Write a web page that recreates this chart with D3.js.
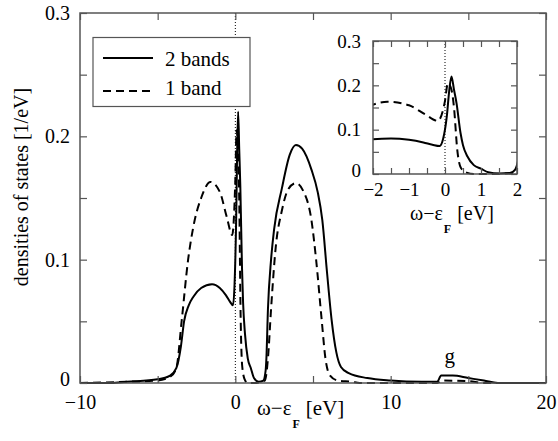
<!DOCTYPE html>
<html>
<head>
<meta charset="utf-8">
<title>densities of states</title>
<script src="https://cdn.jsdelivr.net/npm/d3@7"></script>
<style>
  body { margin: 0; background: #fff; }
  text { font-family: "Liberation Serif", "Times New Roman", serif; fill: #000; }
</style>
</head>
<body>
<script>

// 2 bands (solid)
var bands2X = [-10, -8, -7, -5, -4.2, -3.8, -3.5, -3.3, -3.0, -2.7, -2.2, -1.5, -1.0, -0.6, -0.35, -0.15, -0.05,
  0.05, 0.12, 0.18, 0.25, 0.32, 0.43, 0.5, 0.62, 0.8, 1.0, 1.2, 1.5, 1.8, 1.95, 2.0, 2.1, 2.3, 2.5, 3.0, 3.5, 3.9, 4.3,
  4.9, 5.3, 5.6, 5.9, 6.2, 6.5, 6.8, 7.3, 8.5, 10, 12, 13.0, 13.25, 14, 15, 16, 16.9, 20];
var bands2Y = [0, 0, 0.001, 0.003, 0.006, 0.012, 0.03, 0.05, 0.063, 0.07, 0.077, 0.08, 0.077, 0.071, 0.066, 0.063, 0.08,
  0.13, 0.19, 0.22, 0.19, 0.16, 0.093, 0.065, 0.04, 0.02, 0.012, 0.004, 0.001, 0.002, 0.01, 0.02, 0.06, 0.1, 0.125, 0.158, 0.185, 0.193, 0.19,
  0.173, 0.155, 0.132, 0.09, 0.051, 0.025, 0.013, 0.008, 0.004, 0.002, 0.001, 0.001, 0.006, 0.006, 0.004, 0.002, 0, 0];

// 1 band (dashed)
var band1X = [-10, -7, -5, -4.2, -3.8, -3.45, -3.04, -2.65, -2.2, -1.6, -1.0, -0.56, -0.2, 0, 0.08, 0.18, 0.25, 0.34,
  0.44, 0.6, 0.8, 1.2, 1.9, 2.1, 2.3, 2.6, 3.0, 3.4, 3.9, 4.4, 4.9, 5.2, 5.56, 5.8, 6.1, 6.6, 7.5, 8, 13.0, 13.3, 15, 16, 20];
var band1Y = [0, 0.001, 0.002, 0.005, 0.012, 0.051, 0.1, 0.13, 0.15, 0.163, 0.155, 0.135, 0.12, 0.165, 0.205, 0.19, 0.15, 0.055,
  0.014, 0.003, 0, 0, 0.002, 0.02, 0.06, 0.11, 0.14, 0.157, 0.162, 0.155, 0.132, 0.1, 0.051, 0.02, 0.006, 0.002, 0.001, 0, 0, 0.002, 0.0015, 0, 0];

var xTicks = [-10, -5, 0, 5, 10, 15, 20];
var yTicks = [0, 0.05, 0.1, 0.15, 0.2, 0.25, 0.3];
var insetXTicks = [-2, -1.5, -1, -0.5, 0, 0.5, 1, 1.5, 2];
var insetYTicks = [0, 0.05, 0.1, 0.15, 0.2, 0.25, 0.3];

var width = 558, height = 441;
var svg = d3.select('body').append('svg').attr('width', width).attr('height', height);

var x = d3.scaleLinear().domain([-10, 20]).range([80, 546]);
var y = d3.scaleLinear().domain([0, 0.3]).range([383, 13]);
var ix = d3.scaleLinear().domain([-2, 2]).range([373, 517]);
var iy = d3.scaleLinear().domain([0, 0.3]).range([174, 41]);

var frameColor = '#555';
var serif = '"Liberation Serif", "Times New Roman", serif';

function yFmt(d) {
  var k = Math.round(d * 100);
  if (k % 10 !== 0) return '';
  return k === 0 ? '0' : d3.format('.1f')(d);
}
function xFmt(d) {
  return d % 10 === 0 ? d3.format('d')(d) : '';
}
function ixFmt(d) { return d % 1 === 0 ? d3.format('d')(d) : ''; }

// draws a box with inward ticks on all four sides
function frame(xs, ys, xt, yt, xf, yf, tl, pad, fs) {
  var x0 = xs.range()[0], x1 = xs.range()[1], y0 = ys.range()[0], y1 = ys.range()[1];
  var g = svg.append('g');
  g.append('rect').attr('x', x0).attr('y', y1).attr('width', x1 - x0).attr('height', y0 - y1)
    .attr('fill', 'none').attr('stroke', frameColor).attr('stroke-width', 1.5);
  var axes = [
    [d3.axisBottom(xs).tickValues(xt).tickSizeInner(-tl).tickSizeOuter(0).tickPadding(pad[0]).tickFormat(xf), 0, y0],
    [d3.axisTop(xs).tickValues(xt).tickSizeInner(-tl).tickSizeOuter(0).tickFormat(''), 0, y1],
    [d3.axisLeft(ys).tickValues(yt).tickSizeInner(-tl).tickSizeOuter(0).tickPadding(pad[1]).tickFormat(yf), x0, 0],
    [d3.axisRight(ys).tickValues(yt).tickSizeInner(-tl).tickSizeOuter(0).tickFormat(''), x1, 0]
  ];
  axes.forEach(function(a, i) {
    var ag = g.append('g').attr('transform', 'translate(' + a[1] + ',' + a[2] + ')').call(a[0])
      .attr('font-family', serif).attr('font-size', fs);
    ag.select('.domain').remove();
    ag.selectAll('line').attr('stroke', frameColor).attr('stroke-width', 1.2);
    ag.selectAll('text').style('font-family', serif).style('font-size', fs + 'px').attr('fill', '#000');
    // lift the y "0" a little so it clears the first x label
    if (i === 2) ag.selectAll('.tick').filter(function(d) { return d === 0; }).select('text').attr('dy', '0.12em');
  });
  return g;
}

function drawCurves(xs, ys, clipId) {
  var x0 = xs.range()[0], x1 = xs.range()[1], y0 = ys.range()[0], y1 = ys.range()[1];
  svg.append('clipPath').attr('id', clipId).append('rect')
    .attr('x', x0).attr('y', y1 - 2).attr('width', x1 - x0).attr('height', y0 - y1 + 4);
  var g = svg.append('g').attr('clip-path', 'url(#' + clipId + ')');
  var line = d3.line().x(function(d) { return xs(d[0]); }).y(function(d) { return ys(d[1]); })
    .curve(d3.curveMonotoneX);
  // dotted line at the Fermi level
  g.append('line').attr('x1', xs(0)).attr('x2', xs(0)).attr('y1', y1).attr('y2', y0)
    .attr('stroke', '#000').attr('stroke-width', 1).attr('stroke-dasharray', '1,2');
  g.append('path').datum(d3.zip(band1X, band1Y)).attr('d', line)
    .attr('fill', 'none').attr('stroke', '#000').attr('stroke-width', 2).attr('stroke-dasharray', '8,5');
  g.append('path').datum(d3.zip(bands2X, bands2Y)).attr('d', line)
    .attr('fill', 'none').attr('stroke', '#000').attr('stroke-width', 2);
}

// main plot
drawCurves(x, y, 'clipMain');
frame(x, y, xTicks, yTicks, xFmt, yFmt, 7, [12, 10], 20);

// axis titles
svg.append('text').attr('transform', 'translate(28,187) rotate(-90)').attr('text-anchor', 'middle')
  .style('font-size', '20px').text('densities of states [1/eV]');

function omegaLabel(x0, yb, fs) {
  var t = svg.append('text').attr('x', x0).attr('y', yb).style('font-size', fs + 'px');
  t.append('tspan').text('ω−ε');
  t.append('tspan').attr('dy', 13).attr('dx', 1).style('font-size', '12px').style('font-weight', 'bold').text('F');
  t.append('tspan').attr('dy', -13).attr('dx', 6).text('[eV]');
}
omegaLabel(257, 415, 21);

// g label
svg.append('text').attr('x', x(13.8)).attr('y', 363).attr('text-anchor', 'middle')
  .style('font-size', '21px').text('g');

// legend
var lg = svg.append('g');
lg.append('rect').attr('x', 93).attr('y', 37.5).attr('width', 157).attr('height', 69)
  .attr('fill', '#fff').attr('stroke', frameColor).attr('stroke-width', 1.2);
lg.append('line').attr('x1', 103).attr('x2', 153).attr('y1', 58).attr('y2', 58)
  .attr('stroke', '#000').attr('stroke-width', 2);
lg.append('line').attr('x1', 103).attr('x2', 153).attr('y1', 91).attr('y2', 91)
  .attr('stroke', '#000').attr('stroke-width', 2).attr('stroke-dasharray', '8,5');
lg.append('text').attr('x', 165).attr('y', 66).style('font-size', '21px').text('2 bands');
lg.append('text').attr('x', 165).attr('y', 95).style('font-size', '21px').text('1 band');

// inset
svg.append('rect').attr('x', ix(-2)).attr('y', iy(0.3)).attr('width', ix(2) - ix(-2)).attr('height', iy(0) - iy(0.3))
  .attr('fill', '#fff');
drawCurves(ix, iy, 'clipInset');
frame(ix, iy, insetXTicks, insetYTicks, ixFmt, yFmt, 6, [9, 12], 19);
omegaLabel(410, 220, 20);

</script>
</body>
</html>
